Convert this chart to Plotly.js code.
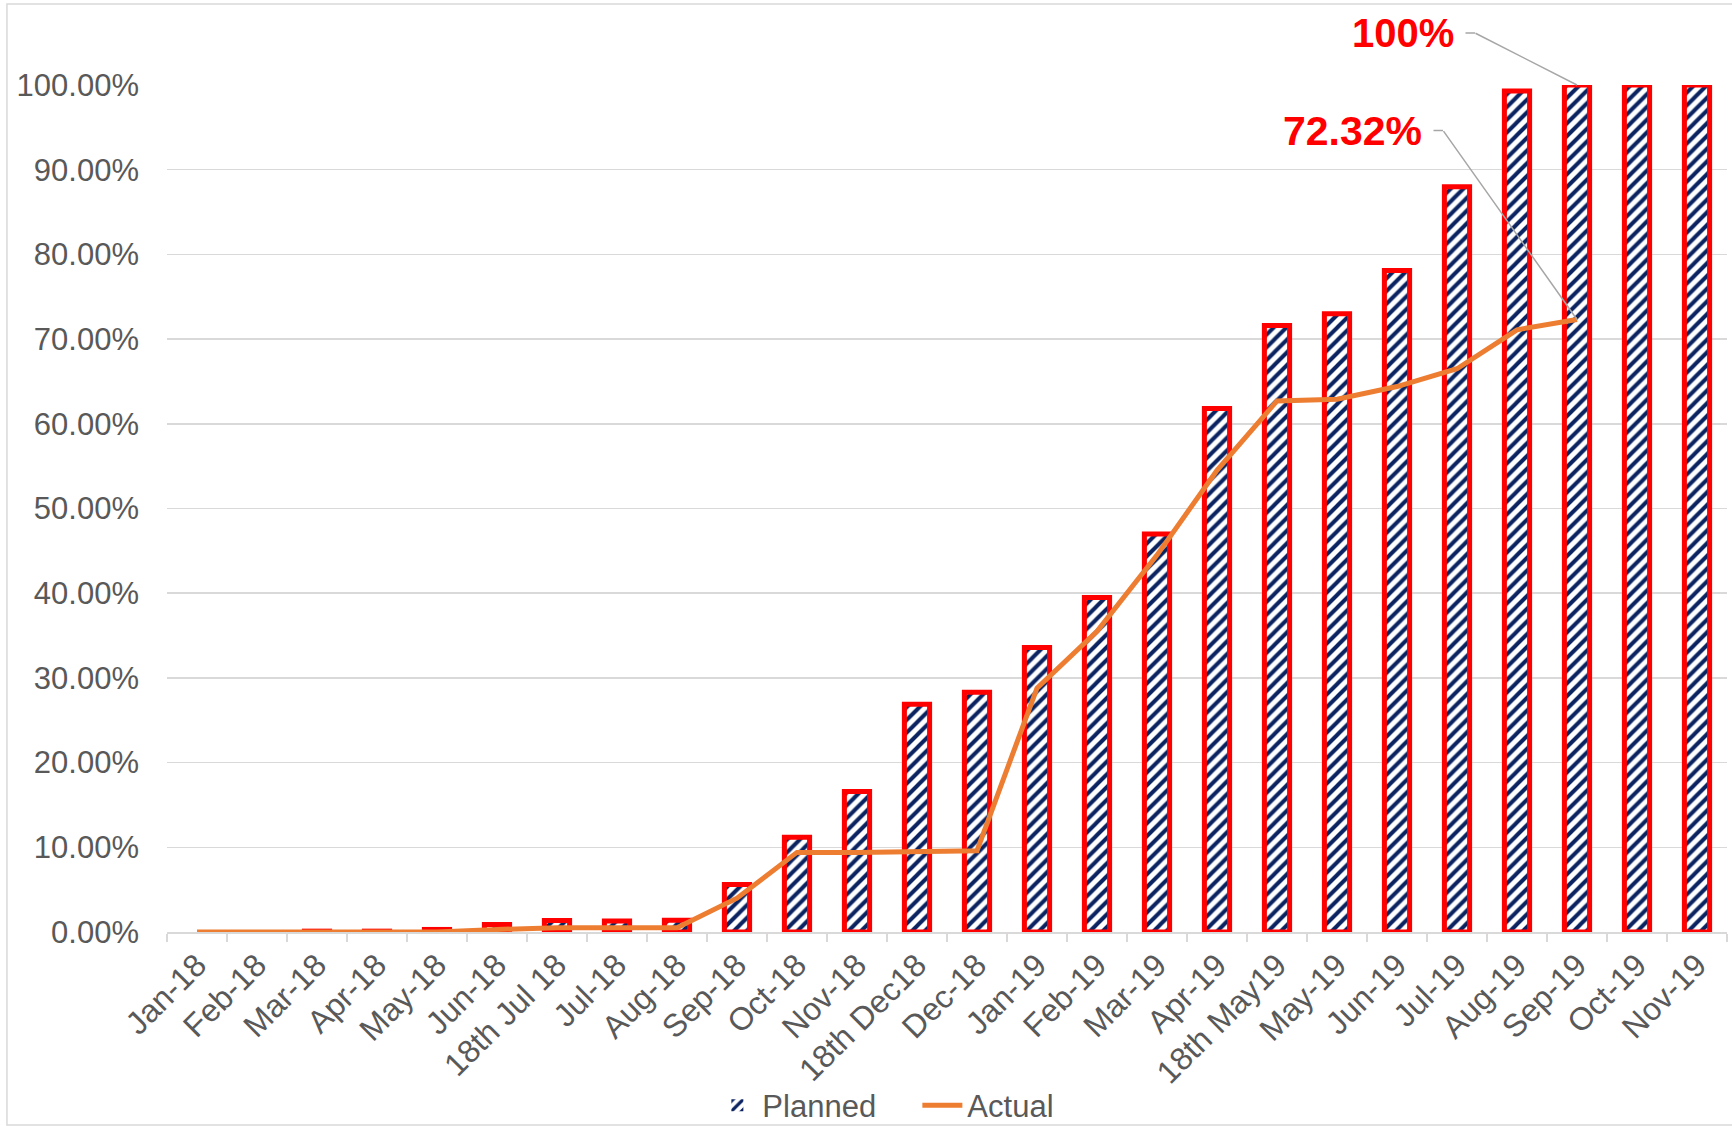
<!DOCTYPE html>
<html>
<head>
<meta charset="utf-8">
<script src="https://cdn.plot.ly/plotly-3.0.1.min.js"></script>
<style>
  html, body { margin: 0; padding: 0; background: #ffffff; }
  #chart { width: 1732px; height: 1126px; }
</style>
</head>
<body>
<div id="chart"></div>
<script>
// Progress milestones (category axis)
const months = [
  'Jan-18', 'Feb-18', 'Mar-18', 'Apr-18', 'May-18', 'Jun-18', '18th Jul 18', 'Jul-18',
  'Aug-18', 'Sep-18', 'Oct-18', 'Nov-18', '18th Dec18', 'Dec-18', 'Jan-19', 'Feb-19',
  'Mar-19', 'Apr-19', '18th May19', 'May-19', 'Jun-19', 'Jul-19', 'Aug-19', 'Sep-19',
  'Oct-19', 'Nov-19'
];

// Cumulative planned progress, %
const planned = [
  0, 0, 0.1, 0.1, 0.3, 0.9, 1.35, 1.3,
  1.4, 5.6, 11.2, 16.6, 26.9, 28.3, 33.6, 39.5,
  47.0, 61.8, 71.6, 73.0, 78.1, 88.0, 99.3, 100,
  100, 100
];

// Cumulative actual progress, % (reported up to Sep-19)
const actual = [
  0, 0, 0, 0, 0, 0.3, 0.5, 0.5,
  0.5, 4.0, 9.4, 9.4, 9.45, 9.6, 28.8, 35.5,
  44.5, 54.5, 62.7, 62.9, 64.4, 66.5, 71.1, 72.32,
  null, null
];

// Month whose figures get a callout
const calloutMonth = 'Sep-19';

const FONT = 'Liberation Sans, Arial, sans-serif';
const GREY_TEXT = '#595959';
const GRID = '#d9d9d9';
const LEADER = '#a6a6a6';

const ci = months.indexOf(calloutMonth);
const plannedText = planned[ci].toFixed(0) + '%';
const actualText = actual[ci].toFixed(2) + '%';

const plannedTrace = {
  type: 'bar',
  name: 'Planned',
  x: months,
  y: planned,
  width: 0.42,
  marker: {
    color: '#ffffff',
    line: { color: '#ff0000', width: planned.map(v => (v > 0 ? 5 : 0)) },
    pattern: { shape: '/', fgcolor: '#0b2461', bgcolor: '#ffffff', size: 9, solidity: 0.45, fillmode: 'replace' }
  },
  hoverinfo: 'x+y'
};

const actualTrace = {
  type: 'scatter',
  mode: 'lines',
  name: 'Actual',
  x: months,
  y: actual,
  connectgaps: false,
  line: { color: '#ed7d31', width: 5 },
  hoverinfo: 'x+y'
};

// Callout: bold red value text with an elbowed grey leader ending on the point
function callout(value, text, size, textDx, textDy, elbowDx, elbowDy) {
  const base = { x: ci, y: value, xref: 'x', yref: 'y' };
  const arrow = {
    text: ' ', font: { size: 1 }, borderpad: 0,
    showarrow: true, arrowhead: 0, arrowwidth: 1.5, arrowcolor: LEADER,
    standoff: 0, startstandoff: 0, axref: 'pixel', ayref: 'pixel'
  };
  return [
    Object.assign({}, base, {
      text: '<b>' + text + '</b>',
      showarrow: false,
      xanchor: 'right', yanchor: 'middle',
      xshift: textDx, yshift: textDy,
      borderpad: 0,
      font: { family: FONT, size: size, color: '#ff0000' }
    }),
    // diagonal run from the elbow to the point
    Object.assign({}, base, arrow, { ax: elbowDx, ay: -elbowDy }),
    // short horizontal run next to the text
    Object.assign({}, base, arrow, { xshift: elbowDx, yshift: elbowDy, ax: -10, ay: 0 })
  ];
}

const layout = {
  width: 1732,
  height: 1126,
  margin: { l: 167, r: 5, t: 85, b: 194, autoexpand: false },
  paper_bgcolor: '#ffffff',
  plot_bgcolor: '#ffffff',
  font: { family: FONT, size: 31, color: GREY_TEXT },
  showlegend: true,
  legend: {
    orientation: 'h',
    x: 0.481, xanchor: 'center',
    y: -0.205, yanchor: 'middle',
    bgcolor: 'rgba(0,0,0,0)',
    font: { family: FONT, size: 31, color: GREY_TEXT },
    itemwidth: 40,
    entrywidth: 150,
    entrywidthmode: 'pixels',
    traceorder: 'normal'
  },
  xaxis: {
    type: 'category',
    tickangle: -45,
    tickfont: { family: FONT, size: 32, color: GREY_TEXT },
    showline: true, linecolor: GRID, linewidth: 1.5,
    ticks: 'outside', tickson: 'boundaries', ticklen: 8, tickcolor: GRID, tickwidth: 1.5,
    showgrid: false,
    automargin: false,
    fixedrange: true
  },
  yaxis: {
    range: [0, 100],
    dtick: 10,
    tickformat: '.2f',
    ticksuffix: '%',
    tickfont: { family: FONT, size: 31, color: GREY_TEXT },
    ticklabelstandoff: 27,
    showgrid: true, gridcolor: GRID, gridwidth: 1.5,
    zeroline: false,
    showline: false,
    ticks: '',
    automargin: false,
    fixedrange: true
  },
  annotations: [].concat(
    callout(planned[ci], plannedText, 40, -122, 52, -102, 52),
    callout(actual[ci], actualText, 41, -154, 188, -134, 189)
  ),
  shapes: [
    {
      type: 'rect', xref: 'paper', yref: 'paper', layer: 'below',
      x0: -0.1026, x1: 1.004, y0: -0.228, y1: 1.0957,
      line: { color: '#d9d9d9', width: 1.5 },
      fillcolor: 'rgba(0,0,0,0)'
    }
  ]
};

Plotly.newPlot('chart', [plannedTrace, actualTrace], layout, { displayModeBar: false, staticPlot: true });
</script>
</body>
</html>
